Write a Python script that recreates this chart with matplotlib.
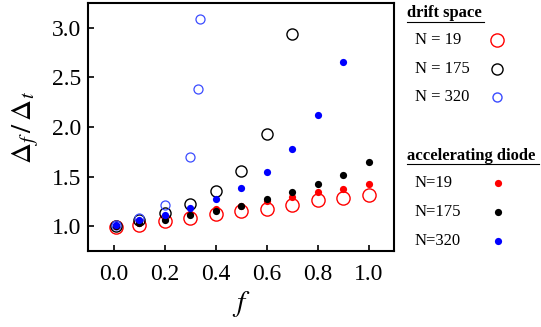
import numpy as np
import matplotlib.pyplot as plt
from matplotlib.lines import Line2D

plt.rcParams['font.family'] = 'Liberation Serif'
plt.rcParams['mathtext.fontset'] = 'stix'

# drift space (open circles)
f_drift = [0.01, 0.1, 0.2, 0.3, 0.4, 0.5, 0.6, 0.7, 0.8, 0.9, 1.0]
drift_19 = [0.99, 1.01, 1.05, 1.08, 1.12, 1.15, 1.17, 1.21, 1.26, 1.28, 1.31]
f_drift_175 = [0.01, 0.1, 0.2, 0.3, 0.4, 0.5, 0.6, 0.7]
drift_175 = [1.0, 1.06, 1.13, 1.22, 1.35, 1.56, 1.93, 2.94]
f_drift_320 = [0.01, 0.1, 0.2, 0.3, 0.33, 0.34]
drift_320 = [1.01, 1.08, 1.21, 1.70, 2.38, 3.09]

# accelerating diode (filled circles)
f_acc = [0.01, 0.1, 0.2, 0.3, 0.4, 0.5, 0.6, 0.7, 0.8, 0.9, 1.0]
acc_19 = [1.0, 1.03, 1.07, 1.12, 1.17, 1.20, 1.25, 1.29, 1.34, 1.37, 1.43]
acc_175 = [1.0, 1.03, 1.06, 1.11, 1.15, 1.20, 1.27, 1.34, 1.43, 1.52, 1.65]
f_acc_320 = [0.01, 0.1, 0.2, 0.3, 0.4, 0.5, 0.6, 0.7, 0.8, 0.9]
acc_320 = [1.01, 1.06, 1.11, 1.18, 1.27, 1.39, 1.55, 1.78, 2.12, 2.66]

fig = plt.figure(figsize=(5.41, 3.27), dpi=100)
ax = fig.add_axes([88/541, 1 - 251/327, 306/541, 248/327])

ax.plot(f_drift, drift_19, 'o', mfc='none', mec='red', ms=9.5, mew=1.0)
ax.plot(f_drift_175, drift_175, 'o', mfc='none', mec='black', ms=8, mew=1.0)
ax.plot(f_drift_320, drift_320, 'o', mfc='none', mec='#3b4cff', ms=6.5, mew=0.9)
ax.plot(f_acc, acc_19, 'o', color='red', ms=5.2, mew=0)
ax.plot(f_acc, acc_175, 'o', color='black', ms=5.2, mew=0)
ax.plot(f_acc_320, acc_320, 'o', color='blue', ms=5.2, mew=0)

ax.set_xlim(-0.1, 1.1)
ax.set_ylim(0.75, 3.25)
ax.set_xticks(np.arange(0, 1.01, 0.2))
ax.set_yticks(np.arange(1.0, 3.01, 0.5))
ax.xaxis.set_major_formatter(plt.FormatStrFormatter('%.1f'))
ax.yaxis.set_major_formatter(plt.FormatStrFormatter('%.1f'))
ax.tick_params(direction='in', labelsize=17, width=1.2, length=4)
ax.tick_params(axis='x', pad=9)
ax.tick_params(axis='y', pad=5)
for s in ax.spines.values():
    s.set_linewidth(1.5)

ax.set_xlabel(r'$f$', fontsize=21, labelpad=3)
ax.set_ylabel(r'$\Delta_f\,/\,\Delta_t$', fontsize=21, labelpad=8)

# hand-made legend on the right
fig.text(407/541, 1 - 13/327, 'drift space', fontsize=12, fontweight='bold',
         va='center', ha='left')
fig.add_artist(Line2D([407/541, 484/541], [1 - 22/327, 1 - 22/327], color='black', lw=0.8))
labels_d = ['N = 19', 'N = 175', 'N = 320']
ys_d = [40, 69, 97]
styles_d = [('red', 9.5), ('black', 8), ('#3b4cff', 6.5)]
for lab, yy, (c, ms) in zip(labels_d, ys_d, styles_d):
    fig.text(415/541, 1 - yy/327, lab, fontsize=12, va='center', ha='left')
    fig.add_artist(Line2D([497/541], [1 - yy/327], marker='o', mfc='none',
                          mec=c, ms=ms, mew=1.0, ls='none'))

fig.text(407/541, 1 - 156/327, 'accelerating diode', fontsize=12, fontweight='bold',
         va='center', ha='left')
fig.add_artist(Line2D([407/541, 539/541], [1 - 164/327, 1 - 164/327], color='black', lw=0.8))
labels_a = ['N=19', 'N=175', 'N=320']
ys_a = [183, 212, 241]
colors_a = ['red', 'black', 'blue']
for lab, yy, c in zip(labels_a, ys_a, colors_a):
    fig.text(415/541, 1 - yy/327, lab, fontsize=12, va='center', ha='left')
    fig.add_artist(Line2D([498/541], [1 - yy/327], marker='o', color=c,
                          ms=5.2, mew=0, ls='none'))

fig.savefig('out.png', dpi=100)
